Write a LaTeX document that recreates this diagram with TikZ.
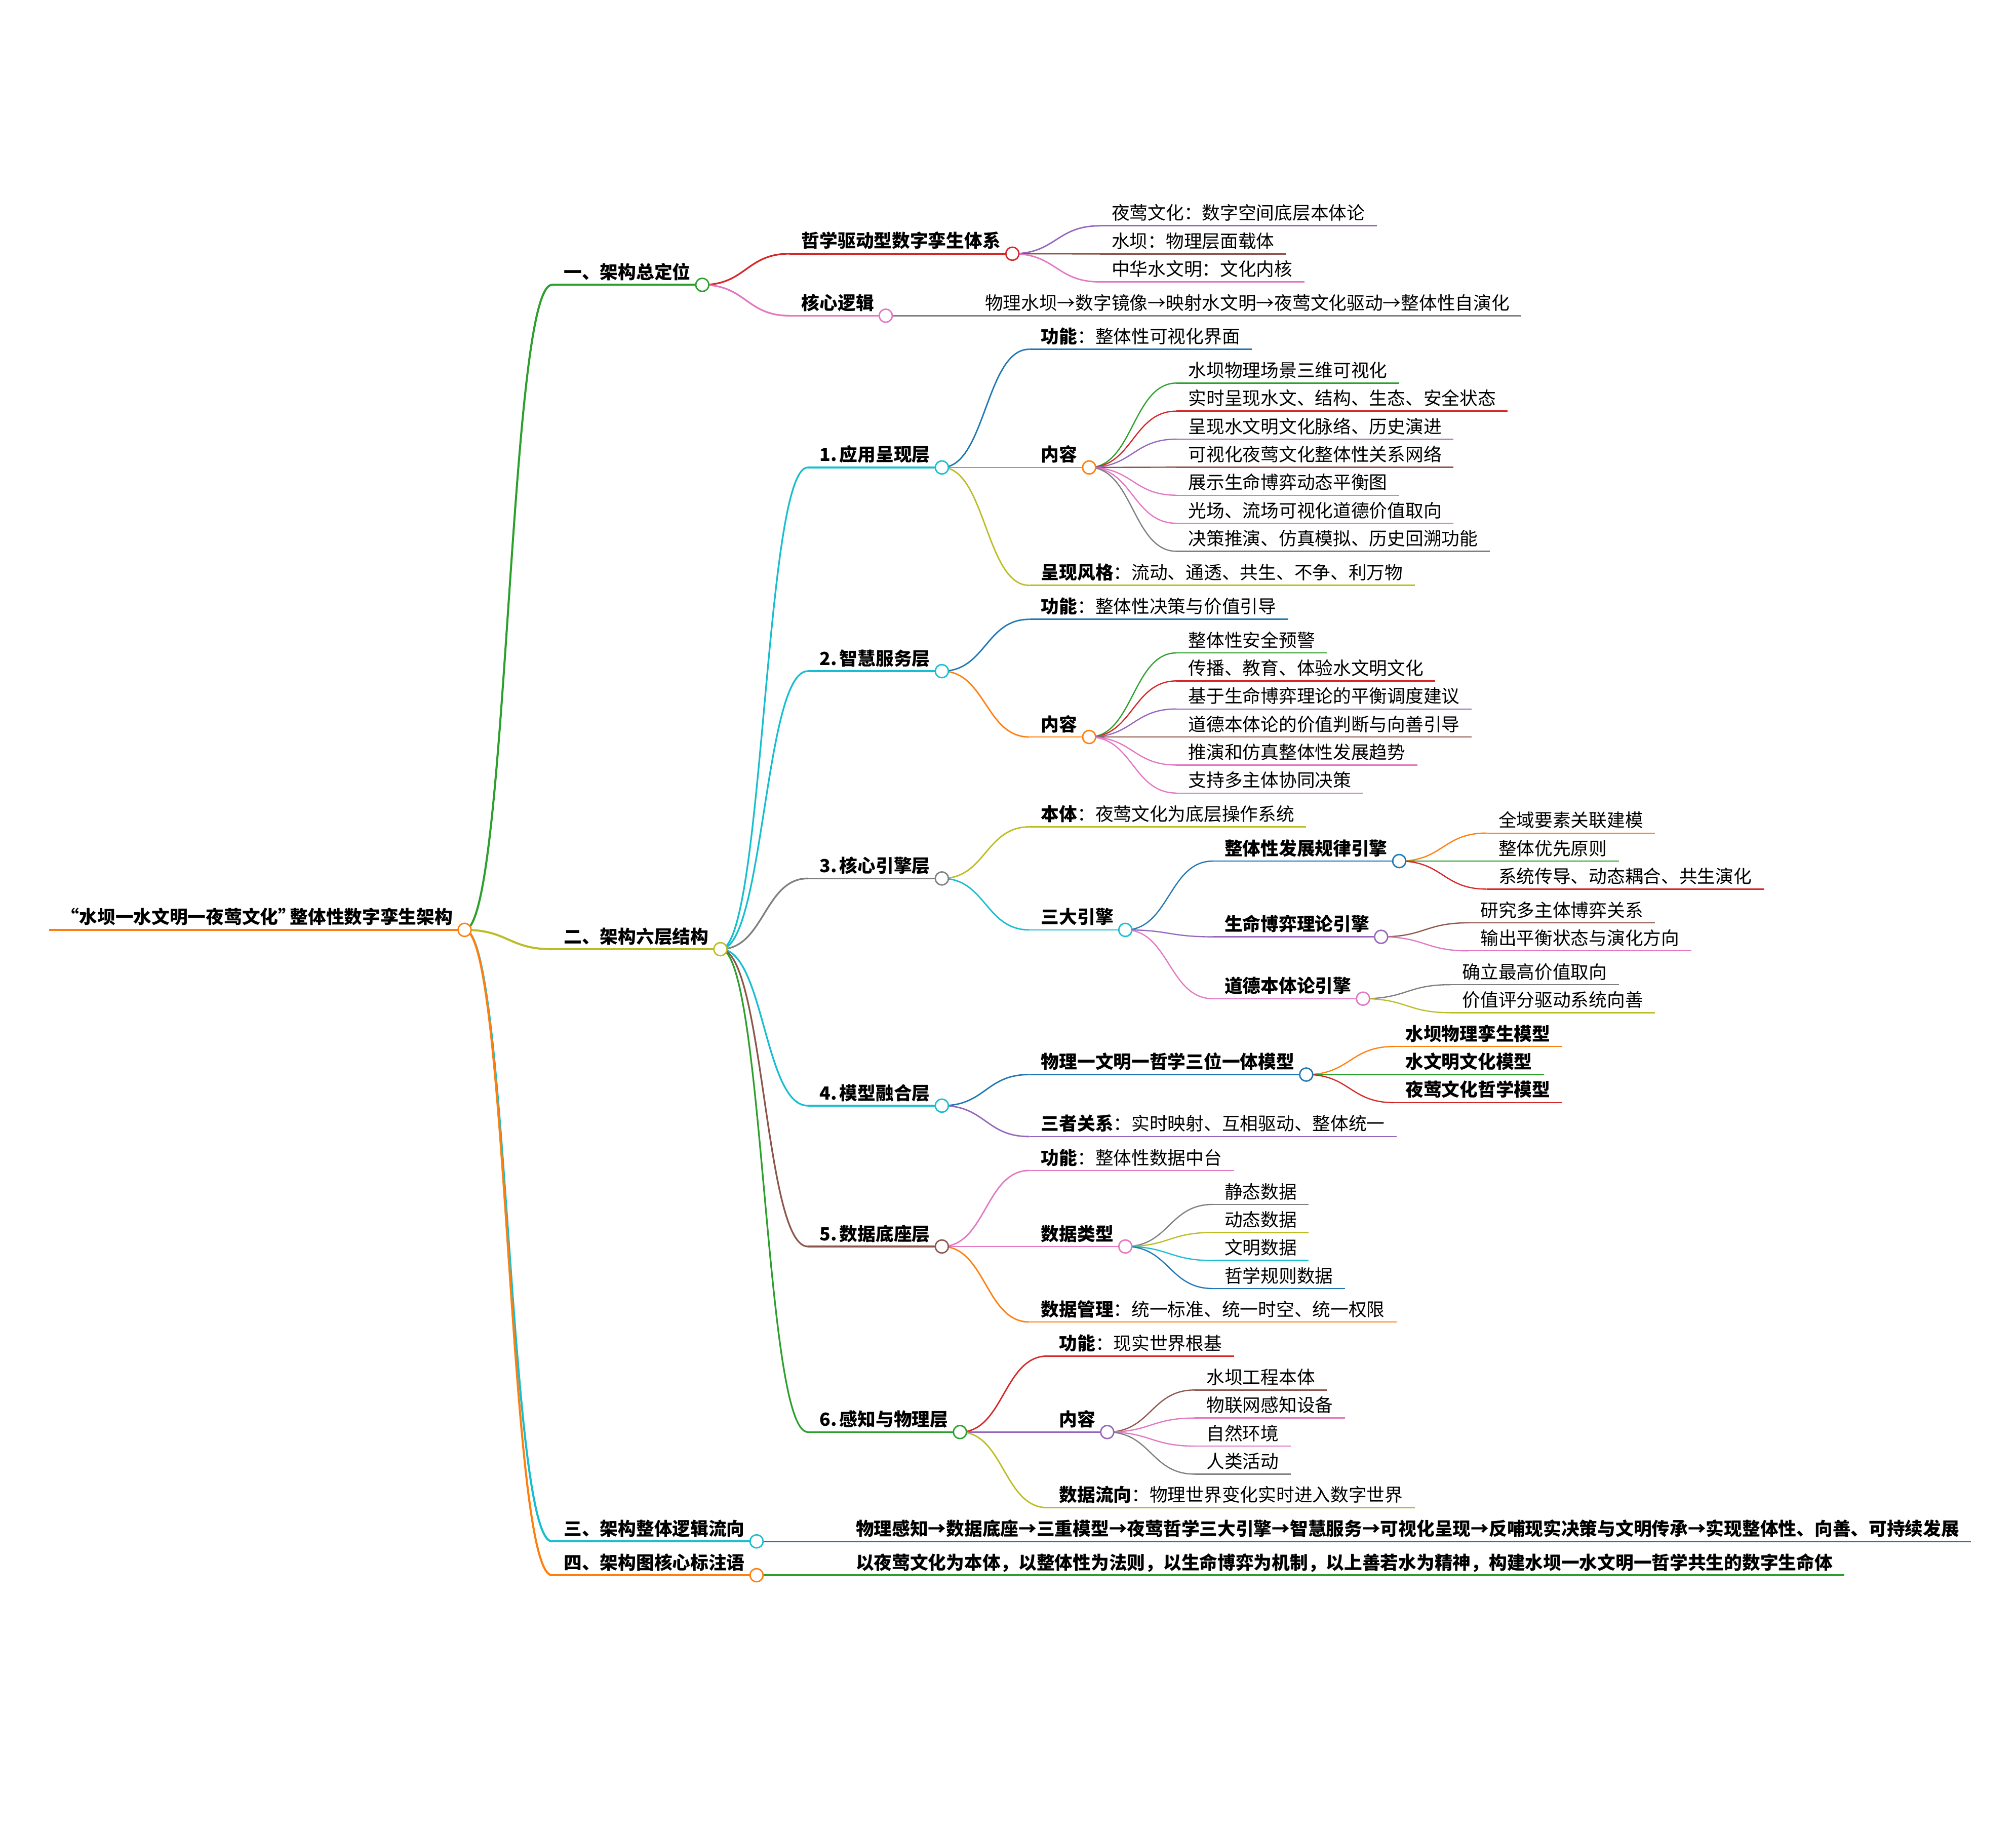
\documentclass[tikz,border=0pt]{standalone}
\usepackage{fontspec}
\setmainfont{Noto Sans CJK SC}
\usetikzlibrary{calc}
\pgfdeclarelayer{fg}
\pgfsetlayers{main,fg}
\definecolor{cBlue}{HTML}{1F77B4}
\definecolor{cOrange}{HTML}{FF7F0E}
\definecolor{cGreen}{HTML}{2CA02C}
\definecolor{cRed}{HTML}{D62728}
\definecolor{cPurple}{HTML}{9467BD}
\definecolor{cBrown}{HTML}{8C564B}
\definecolor{cPink}{HTML}{E377C2}
\definecolor{cGray}{HTML}{7F7F7F}
\definecolor{cOlive}{HTML}{BCBD22}
\definecolor{cCyan}{HTML}{17BECF}
\tikzset{
  mmtext/.style={anchor=base west, inner xsep=9pt, inner ysep=0pt, text=black,
    font=\fontsize{14.07pt}{17pt}\selectfont},
  mmdot/.style={circle, fill=white, line width=1.1pt, minimum size=10.2pt, inner sep=0pt},
}
% #1 name, #2 parent, #3 y, #4 colour, #5 line width, #6 text
\newcommand\mmnode[6]{%
  \coordinate (#1-t) at ([xshift=68pt]#2-c);
  \coordinate (#1-s) at (#1-t |- 0,#3);
  \coordinate (#1-m) at ($(#2-c)!0.5!(#1-s)$);
  \draw[line width=#5, draw=#4] (#2-c) .. controls (#1-m |- #2-c) and (#1-m |- #1-s) .. (#1-s);
  \node[mmtext] (#1) at ([yshift=4.7pt]#1-s) {#6};
  \coordinate (#1-c) at (#1.east |- #1-s);
  \draw[line width=#5, draw=#4] (#1-s) -- (#1-c);
}
\newcommand\mmdot[2]{%
  \begin{pgfonlayer}{fg}\node[mmdot, draw=#2] (#1-dot) at (#1-c) {};\end{pgfonlayer}%
}
\begin{document}
\begin{tikzpicture}[x=1pt, y=-1pt]
\useasboundingbox (0,0) rectangle (1568,1423.8);
\fill[white] (0,0) rectangle (1568,1423.8);
% root
\coordinate (root-s) at (38.2,723.1);
\node[mmtext] (root) at ([xshift=5.2pt,yshift=4.7pt]root-s) {\bfseries \kern-5pt“水坝一水文明一夜莺文化”\kern-5pt整体性数字孪生架构};
\coordinate (root-c) at (root.east |- root-s);
\draw[line width=1.8pt, draw=cOrange] (root-s) -- (root-c);
\mmdot{root}{cOrange}
% ---------- 一
\mmnode{A}{root}{221.5}{cGreen}{1.6pt}{\bfseries 一、架构总定位}\mmdot{A}{cGreen}
\mmnode{A1}{A}{197.3}{cRed}{1.3pt}{\bfseries 哲学驱动型数字孪生体系}\mmdot{A1}{cRed}
\mmnode{A1a}{A1}{175.6}{cPurple}{1.1pt}{夜莺文化：数字空间底层本体论}
\mmnode{A1b}{A1}{197.4}{cBrown}{1.1pt}{水坝：物理层面载体}
\mmnode{A1c}{A1}{219.2}{cPink}{1.1pt}{中华水文明：文化内核}
\mmnode{A2}{A}{245.5}{cPink}{1.3pt}{\bfseries 核心逻辑}\mmdot{A2}{cPink}
\mmnode{A2a}{A2}{245.5}{cGray}{1.1pt}{物理水坝→数字镜像→映射水文明→夜莺文化驱动→整体性自演化}
% ---------- 二
\mmnode{B}{root}{738.1}{cOlive}{1.6pt}{\bfseries 二、架构六层结构}\mmdot{B}{cOlive}
% 1
\mmnode{B1}{B}{363.5}{cCyan}{1.3pt}{\bfseries 1.\kern2pt 应用呈现层}\mmdot{B1}{cCyan}
\mmnode{B1a}{B1}{271.6}{cBlue}{1.1pt}{{\bfseries 功能}：整体性可视化界面}
\mmnode{B1b}{B1}{363.5}{cOrange}{1.1pt}{\bfseries 内容}\mmdot{B1b}{cOrange}
\mmnode{B1b1}{B1b}{297.9}{cGreen}{0.95pt}{水坝物理场景三维可视化}
\mmnode{B1b2}{B1b}{319.7}{cRed}{0.95pt}{实时呈现水文、结构、生态、安全状态}
\mmnode{B1b3}{B1b}{341.5}{cPurple}{0.95pt}{呈现水文明文化脉络、历史演进}
\mmnode{B1b4}{B1b}{363.3}{cBrown}{0.95pt}{可视化夜莺文化整体性关系网络}
\mmnode{B1b5}{B1b}{385.1}{cPink}{0.95pt}{展示生命博弈动态平衡图}
\mmnode{B1b6}{B1b}{406.9}{cPink}{0.95pt}{光场、流场可视化道德价值取向}
\mmnode{B1b7}{B1b}{428.7}{cGray}{0.95pt}{决策推演、仿真模拟、历史回溯功能}
\mmnode{B1c}{B1}{455.2}{cOlive}{1.1pt}{{\bfseries 呈现风格}：流动、通透、共生、不争、利万物}
% 2
\mmnode{B2}{B}{521.9}{cCyan}{1.3pt}{\bfseries 2.\kern2pt 智慧服务层}\mmdot{B2}{cCyan}
\mmnode{B2a}{B2}{481.6}{cBlue}{1.1pt}{{\bfseries 功能}：整体性决策与价值引导}
\mmnode{B2b}{B2}{573.1}{cOrange}{1.1pt}{\bfseries 内容}\mmdot{B2b}{cOrange}
\mmnode{B2b1}{B2b}{507.7}{cGreen}{0.95pt}{整体性安全预警}
\mmnode{B2b2}{B2b}{529.5}{cRed}{0.95pt}{传播、教育、体验水文明文化}
\mmnode{B2b3}{B2b}{551.3}{cPurple}{0.95pt}{基于生命博弈理论的平衡调度建议}
\mmnode{B2b4}{B2b}{573.1}{cBrown}{0.95pt}{道德本体论的价值判断与向善引导}
\mmnode{B2b5}{B2b}{594.9}{cPink}{0.95pt}{推演和仿真整体性发展趋势}
\mmnode{B2b6}{B2b}{616.7}{cPink}{0.95pt}{支持多主体协同决策}
% 3
\mmnode{B3}{B}{683.1}{cGray}{1.3pt}{\bfseries 3.\kern2pt 核心引擎层}\mmdot{B3}{cGray}
\mmnode{B3a}{B3}{643.0}{cOlive}{1.1pt}{{\bfseries 本体}：夜莺文化为底层操作系统}
\mmnode{B3b}{B3}{723.1}{cCyan}{1.1pt}{\bfseries 三大引擎}\mmdot{B3b}{cCyan}
\mmnode{B3c}{B3b}{669.6}{cBlue}{0.95pt}{\bfseries 整体性发展规律引擎}\mmdot{B3c}{cBlue}
\mmnode{B3c1}{B3c}{647.8}{cOrange}{0.95pt}{全域要素关联建模}
\mmnode{B3c2}{B3c}{669.6}{cGreen}{0.95pt}{整体优先原则}
\mmnode{B3c3}{B3c}{691.4}{cRed}{0.95pt}{系统传导、动态耦合、共生演化}
\mmnode{B3d}{B3b}{728.5}{cPurple}{0.95pt}{\bfseries 生命博弈理论引擎}\mmdot{B3d}{cPurple}
\mmnode{B3d1}{B3d}{717.6}{cBrown}{0.95pt}{研究多主体博弈关系}
\mmnode{B3d2}{B3d}{739.4}{cPink}{0.95pt}{输出平衡状态与演化方向}
\mmnode{B3e}{B3b}{776.6}{cPink}{0.95pt}{\bfseries 道德本体论引擎}\mmdot{B3e}{cPink}
\mmnode{B3e1}{B3e}{765.7}{cGray}{0.95pt}{确立最高价值取向}
\mmnode{B3e2}{B3e}{787.5}{cOlive}{0.95pt}{价值评分驱动系统向善}
% 4
\mmnode{B4}{B}{859.8}{cCyan}{1.3pt}{\bfseries 4.\kern2pt 模型融合层}\mmdot{B4}{cCyan}
\mmnode{B4a}{B4}{835.6}{cBlue}{1.1pt}{\bfseries 物理一文明一哲学三位一体模型}\mmdot{B4a}{cBlue}
\mmnode{B4a1}{B4a}{813.8}{cOrange}{0.95pt}{\bfseries 水坝物理孪生模型}
\mmnode{B4a2}{B4a}{835.6}{cGreen}{0.95pt}{\bfseries 水文明文化模型}
\mmnode{B4a3}{B4a}{857.4}{cRed}{0.95pt}{\bfseries 夜莺文化哲学模型}
\mmnode{B4b}{B4}{883.8}{cPurple}{1.1pt}{{\bfseries 三者关系}：实时映射、互相驱动、整体统一}
% 5
\mmnode{B5}{B}{969.3}{cBrown}{1.3pt}{\bfseries 5.\kern2pt 数据底座层}\mmdot{B5}{cBrown}
\mmnode{B5a}{B5}{910.2}{cPink}{1.1pt}{{\bfseries 功能}：整体性数据中台}
\mmnode{B5b}{B5}{969.3}{cPink}{1.1pt}{\bfseries 数据类型}\mmdot{B5b}{cPink}
\mmnode{B5b1}{B5b}{936.6}{cGray}{0.95pt}{静态数据}
\mmnode{B5b2}{B5b}{958.4}{cOlive}{0.95pt}{动态数据}
\mmnode{B5b3}{B5b}{980.2}{cCyan}{0.95pt}{文明数据}
\mmnode{B5b4}{B5b}{1002.0}{cBlue}{0.95pt}{哲学规则数据}
\mmnode{B5c}{B5}{1028.0}{cOrange}{1.1pt}{{\bfseries 数据管理}：统一标准、统一时空、统一权限}
% 6
\mmnode{B6}{B}{1113.6}{cGreen}{1.3pt}{\bfseries 6.\kern2pt 感知与物理层}\mmdot{B6}{cGreen}
\mmnode{B6a}{B6}{1054.5}{cRed}{1.1pt}{{\bfseries 功能}：现实世界根基}
\mmnode{B6b}{B6}{1113.6}{cPurple}{1.1pt}{\bfseries 内容}\mmdot{B6b}{cPurple}
\mmnode{B6b1}{B6b}{1080.9}{cBrown}{0.95pt}{水坝工程本体}
\mmnode{B6b2}{B6b}{1102.7}{cPink}{0.95pt}{物联网感知设备}
\mmnode{B6b3}{B6b}{1124.5}{cPink}{0.95pt}{自然环境}
\mmnode{B6b4}{B6b}{1146.3}{cGray}{0.95pt}{人类活动}
\mmnode{B6c}{B6}{1172.4}{cOlive}{1.1pt}{{\bfseries 数据流向}：物理世界变化实时进入数字世界}
% ---------- 三
\mmnode{C}{root}{1198.6}{cCyan}{1.6pt}{\bfseries 三、架构整体逻辑流向}\mmdot{C}{cCyan}
\mmnode{C1}{C}{1198.6}{cBlue}{1.3pt}{\bfseries 物理感知→数据底座→三重模型→夜莺哲学三大引擎→智慧服务→可视化呈现→反哺现实决策与文明传承→实现整体性、向善、可持续发展}
% ---------- 四
\mmnode{D}{root}{1224.9}{cOrange}{1.6pt}{\bfseries 四、架构图核心标注语}\mmdot{D}{cOrange}
\mmnode{D1}{D}{1224.9}{cGreen}{1.3pt}{\bfseries 以夜莺文化为本体，以整体性为法则，以生命博弈为机制，以上善若水为精神，构建水坝一水文明一哲学共生的数字生命体}
\end{tikzpicture}
\end{document}
